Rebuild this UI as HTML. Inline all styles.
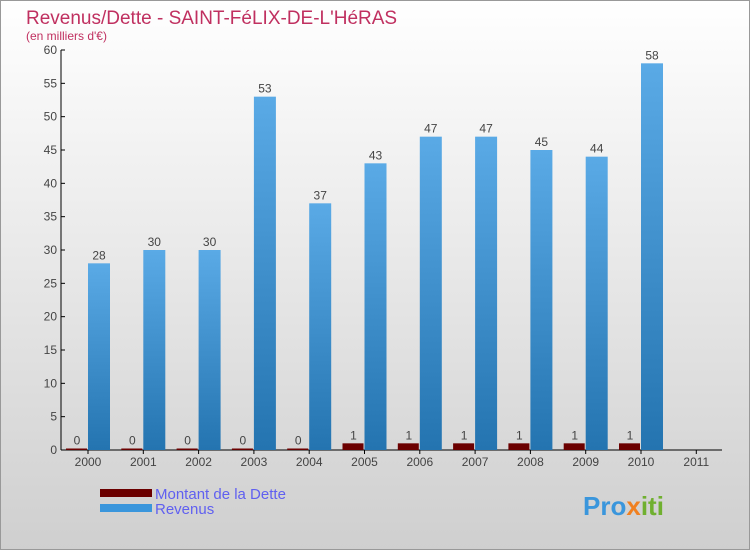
<!DOCTYPE html>
<html><head><meta charset="utf-8"><style>
body{margin:0;width:750px;height:550px;overflow:hidden;font-family:"Liberation Sans",sans-serif}
</style></head><body>
<svg width="750" height="550">
<defs>
<linearGradient id="bg" x1="0" y1="0" x2="0" y2="1"><stop offset="0" stop-color="#ffffff"/><stop offset="1" stop-color="#cfcfcf"/></linearGradient>
<linearGradient id="blue" x1="0" y1="0" x2="0" y2="1"><stop offset="0" stop-color="#5aaae6"/><stop offset="1" stop-color="#2474b0"/></linearGradient>
</defs>
<rect width="750" height="550" fill="url(#bg)"/>
<rect x="0.5" y="0.5" width="749" height="549" fill="none" stroke="#999"/>
<text x="26" y="24" font-size="19" fill="#c03060">Revenus/Dette - SAINT-FéLIX-DE-L'HéRAS</text>
<text x="26" y="40" font-size="12" fill="#c03060">(en milliers d'€)</text>
<g id="plot"></g>
<g>
<rect x="100" y="489" width="52" height="8" fill="#6b0000"/>
<text x="155" y="499" font-size="15" fill="#6060f0">Montant de la Dette</text>
<rect x="100" y="504" width="52" height="8" fill="#3a96dc"/>
<text x="155" y="514" font-size="15" fill="#6060f0">Revenus</text>
</g>
<text x="583" y="515" font-size="26" font-weight="bold" fill="#3a96dc">Pro<tspan fill="#f08020">x</tspan><tspan fill="#70b030">iti</tspan></text>
</svg>
<script>
const years=["2000","2001","2002","2003","2004","2005","2006","2007","2008","2009","2010","2011"];
const dette=[0,0,0,0,0,1,1,1,1,1,1,null];
const revenus=[28,30,30,53,37,43,47,47,45,44,58,null];
const yTicks=[0,5,10,15,20,25,30,35,40,45,50,55,60];
const NS="http://www.w3.org/2000/svg";
const g=document.getElementById('plot');
const y=v=>450-v*400/60;
const x=i=>88+55.3*i;
function mk(t,a,txt){const e=document.createElementNS(NS,t);for(const k in a)e.setAttribute(k,a[k]);if(txt!=null)e.textContent=txt;g.appendChild(e);return e;}
let ax=mk('line',{x1:61,y1:50,x2:61,y2:450,stroke:'#000'});


let bx=mk('line',{x1:61,y1:450,x2:722,y2:450,stroke:'#000'});


yTicks.forEach(v=>{
 let l=mk('line',{x1:61,y1:y(v),x2:65,y2:y(v),stroke:'#000'});
 
 
 let t=mk('text',{x:57,y:y(v)+4,'font-size':12,fill:'#444','text-anchor':'end'},v);
 
 
});
years.forEach((yr,i)=>{
 const c=x(i);
 let l=mk('line',{x1:c,y1:450,x2:c,y2:454,stroke:'#000'});
 
 
 let t=mk('text',{x:c,y:466,'font-size':12,fill:'#444','text-anchor':'middle'},yr);
 
 
 if(dette[i]!=null){
  const h=Math.max(450-y(dette[i]),1.5);
  let r=mk('rect',{x:c-22,y:450-h,width:21,height:h,fill:'#6b0000'});
  
  
  let lb=mk('text',{x:c-11,y:450-h-4,'font-size':12,fill:'#444','text-anchor':'middle'},dette[i]);
  
  
 }
 if(revenus[i]!=null){
  let r=mk('rect',{x:c,y:y(revenus[i]),width:22,height:450-y(revenus[i]),fill:'url(#blue)'});
  
  
  let lb=mk('text',{x:c+11,y:y(revenus[i])-4,'font-size':12,fill:'#444','text-anchor':'middle'},revenus[i]);
  
  
 }
});
</script>
</body></html>
